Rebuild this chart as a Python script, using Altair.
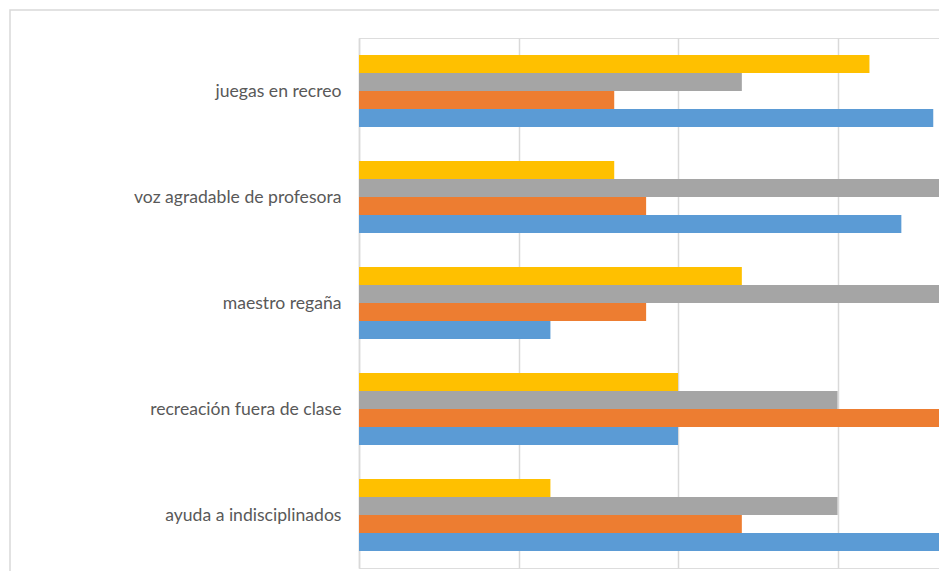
import altair as alt
import pandas as pd

categories = ["juegas en recreo", "voz agradable de profesora", "maestro regaña",
              "recreación fuera de clase", "ayuda a indisciplinados"]
series_names = ["Serie 1", "Serie 2", "Serie 3", "Serie 4"]
serie1 = [18, 17, 6, 10, 20]   # blue
serie2 = [8, 9, 9, 20, 12]     # orange
serie3 = [12, 20, 20, 15, 15]  # gray
serie4 = [16, 8, 12, 10, 6]    # yellow
colors = ["#5B9BD5", "#ED7D31", "#A5A5A5", "#FFC000"]

rows = []
for s, vals in zip(series_names, [serie1, serie2, serie3, serie4]):
    for c, v in zip(categories, vals):
        rows.append({"categoria": c, "serie": s, "valor": v})
df = pd.DataFrame(rows)

W, H = 580, 530

bars = alt.Chart(df).mark_bar(clip=True).encode(
    y=alt.Y("categoria:N", sort=categories,
            scale=alt.Scale(paddingInner=0.32, paddingOuter=0.16),
            axis=alt.Axis(title=None, ticks=False, labelPadding=18, labelFontSize=17.6,
                          labelFont="Lato", labelColor="#595959", labelOffset=1,
                          domainColor="#D9D9D9", domainWidth=1.5, grid=False,
                          labelLimit=400)),
    yOffset=alt.YOffset("serie:N", sort=series_names[::-1],
                        scale=alt.Scale(paddingInner=0, paddingOuter=0)),
    x=alt.X("valor:Q", scale=alt.Scale(domain=[0, 18.18], nice=False, zero=True),
            axis=alt.Axis(title=None, values=[0, 5, 10, 15], labels=False, ticks=False,
                          domain=False, grid=True, gridColor="#D9D9D9", gridWidth=1.5)),
    color=alt.Color("serie:N", scale=alt.Scale(domain=series_names, range=colors),
                    legend=None),
)

border = alt.Chart(pd.DataFrame({"k": [0]})).mark_rect(
    fill="transparent", stroke="#D9D9D9", strokeWidth=1.5, clip=False
).encode(
    x=alt.value(-349), x2=alt.value(W + 60),
    y=alt.value(-28), y2=alt.value(H + 60),
)

chart = alt.layer(border, bars).properties(
    width=W, height=H,
    autosize=alt.AutoSizeParams(type="none"),
    padding={"left": 351, "top": 30, "right": 0, "bottom": 3},
).configure_view(stroke=None).configure(background="white")

chart.save("out.html", embed_options={"renderer": "svg", "actions": False})
